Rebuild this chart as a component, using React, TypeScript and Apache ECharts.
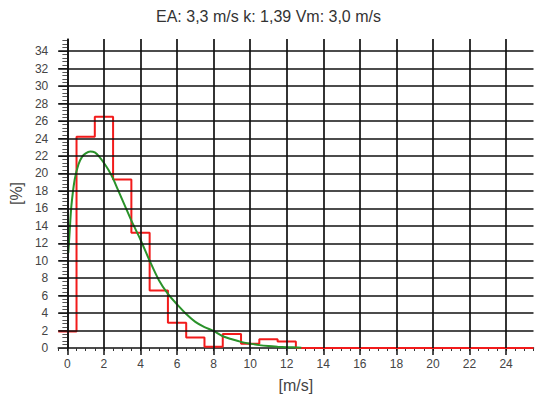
import React, { useEffect, useRef } from "react";
import * as echarts from "echarts";

// Histogram bins (centers in m/s) and frequencies in %
const binCenters = [0, 1, 2, 3, 4, 5, 6, 7, 8, 9, 10, 11, 12, 13, 14, 15, 16, 17, 18, 19, 20, 21, 22, 23, 24, 25];
const binValues = [1.9, 24.2, 26.5, 19.3, 13.2, 6.6, 2.9, 1.2, 0.15, 1.6, 0.5, 1.0, 0.75, 0, 0, 0, 0, 0, 0, 0, 0, 0, 0, 0, 0, 0];

// Fitted Weibull curve
const curveX = [0.05, 0.13, 0.22, 0.4, 0.6, 0.8, 1.0, 1.25, 1.5, 1.75, 2.0, 2.25, 2.5, 2.75, 3.0, 3.25, 3.5, 3.75, 4.0, 4.5, 5.0, 5.5, 6.0, 6.5, 7.0, 7.5, 8.0, 8.5, 9.0, 9.5, 10.0, 10.5, 11.0, 11.5, 12.0, 12.8];
const curveY = [10.9, 13.5, 16.3, 19.3, 21.0, 21.9, 22.3, 22.5, 22.4, 21.9, 21.2, 20.4, 19.4, 18.2, 17.0, 15.8, 14.6, 13.5, 12.4, 10.0, 7.8, 6.2, 5.0, 3.9, 3.0, 2.4, 1.95, 1.35, 1.0, 0.7, 0.5, 0.33, 0.22, 0.15, 0.1, 0.04];

const xTicks = [0, 2, 4, 6, 8, 10, 12, 14, 16, 18, 20, 22, 24];
const yTicks = [0, 2, 4, 6, 8, 10, 12, 14, 16, 18, 20, 22, 24, 26, 28, 30, 32, 34];

const titleText = "EA: 3,3 m/s k: 1,39 Vm: 3,0 m/s";

const X_MIN = -0.5;
const X_MAX = 25.5;
const Y_MIN = 0;
const Y_MAX = 35.4;

function minorValues(min: number, max: number, step: number) {
  const out: number[] = [];
  for (let i = 0; min + i * step <= max + 1e-9; i++) {
    out.push(Math.round((min + i * step) * 1000) / 1000);
  }
  return out;
}

export default function App() {
  const ref = useRef<HTMLDivElement>(null);
  useEffect(() => {
    if (!ref.current) return;
    const chart = echarts.init(ref.current, undefined, { renderer: "svg" });
    const font = "'Liberation Sans', Arial, sans-serif";
    const stepData = binCenters.map((c, i) => [c - 0.5, binValues[i]]);
    stepData.push([X_MAX, 0]);
    const curveData = curveX.map((x, i) => [x, curveY[i]]);
    const xMinor = minorValues(X_MIN, X_MAX, 0.5);
    const yMinor = minorValues(Y_MIN, 35.2, 0.4);
    const gridLineStyle = { color: "#111", width: 1.7, type: "solid" as const };

    chart.setOption({
      animation: false,
      backgroundColor: "#fff",
      title: {
        text: titleText,
        left: "center",
        top: 3,
        textStyle: { fontFamily: font, fontSize: 16, fontWeight: "normal", color: "#333" },
      },
      grid: { left: 57, right: 3.5, top: 39, bottom: 53, containLabel: false },
      xAxis: [
        {
          type: "value",
          position: "bottom",
          min: X_MIN,
          max: X_MAX,
          name: "[m/s]",
          nameLocation: "middle",
          nameGap: 29,
          nameTextStyle: { fontFamily: font, fontSize: 16, color: "#444" },
          axisLine: { show: true, lineStyle: { color: "#111", width: 1.5 } },
          axisTick: { show: true, customValues: xMinor, length: 3, lineStyle: { color: "#333", width: 1 } },
          axisLabel: { show: true, customValues: xTicks, margin: 10, fontFamily: font, fontSize: 12, color: "#444" },
          splitLine: { show: false },
        },
        {
          type: "value",
          position: "bottom",
          offset: 0,
          min: X_MIN,
          max: X_MAX,
          axisLine: { show: false },
          axisTick: { show: true, customValues: xTicks, length: 7, lineStyle: { color: "#111", width: 1.5 } },
          axisLabel: { show: false },
          splitLine: { show: false },
        },
      ],
      yAxis: [
        {
          type: "value",
          position: "left",
          min: Y_MIN,
          max: Y_MAX,
          name: "[%]",
          nameLocation: "middle",
          nameRotate: 90,
          nameGap: 23,
          nameTextStyle: { fontFamily: font, fontSize: 16, color: "#444" },
          axisLine: { show: true, lineStyle: { color: "#111", width: 1.5 } },
          axisTick: { show: true, customValues: yMinor, length: 5, lineStyle: { color: "#555", width: 1 } },
          axisLabel: { show: true, customValues: yTicks, margin: 10, fontFamily: font, fontSize: 12, color: "#444" },
          splitLine: { show: false },
        },
        {
          type: "value",
          position: "left",
          offset: 0,
          min: Y_MIN,
          max: Y_MAX,
          axisLine: { show: false },
          axisTick: { show: true, customValues: yTicks, length: 9, lineStyle: { color: "#333", width: 1 } },
          axisLabel: { show: false },
          splitLine: { show: false },
        },
      ],
      series: [
        {
          type: "line",
          z: 1,
          xAxisIndex: 0,
          yAxisIndex: 0,
          data: [[X_MIN, 0]],
          showSymbol: false,
          silent: true,
          lineStyle: { opacity: 0 },
          markLine: {
            silent: true,
            symbol: ["none", "none"],
            label: { show: false },
            lineStyle: gridLineStyle,
            emphasis: { disabled: true },
            data: [
              ...xTicks.map((v) => ({ xAxis: v })),
              ...yTicks.filter((v) => v > 0).map((v) => ({ yAxis: v })),
            ],
          },
        },
        {
          type: "line",
          z: 3,
          data: stepData,
          step: "end",
          showSymbol: false,
          lineStyle: { color: "#f21b1b", width: 2 },
        },
        {
          type: "line",
          z: 4,
          data: curveData,
          smooth: 0.3,
          showSymbol: false,
          lineStyle: { color: "#2a922a", width: 2 },
        },
      ],
    });
    return () => chart.dispose();
  }, []);
  return (
    <div
      ref={ref}
      style={{ position: "fixed", left: 0, top: 0, width: 537, height: 401 }}
    />
  );
}
